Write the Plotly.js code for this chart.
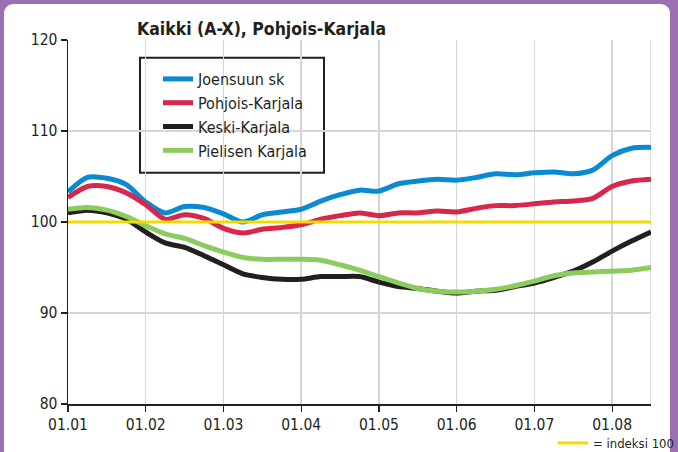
<!DOCTYPE html>
<html>
<head>
<meta charset="utf-8">
<script src="https://cdn.plot.ly/plotly-3.0.1.min.js"></script>
<style>
  html, body { margin: 0; padding: 0; width: 678px; height: 452px; overflow: hidden; background: #9a70b3; }
  #frame { position: absolute; left: 4px; top: 4px; width: 666px; height: 460px; background: #ffffff; border-radius: 9px; }
  #chart { position: absolute; left: 0; top: 0; width: 678px; height: 452px; }
</style>
</head>
<body>
<div id="frame"></div>
<div id="chart"></div>
<script>
// x positions: months since 01.01 (0 = 01.01, 1 = 01.02, ...), roughly weekly
const xMonths = [0, 0.25, 0.5, 0.75, 1, 1.25, 1.5, 1.75, 2, 2.25, 2.5, 2.75, 3, 3.25, 3.5, 3.75,
                 4, 4.25, 4.5, 4.75, 5, 5.25, 5.5, 5.75, 6, 6.25, 6.5, 6.75, 7, 7.25, 7.5];

const tickVals = [0, 1, 2, 3, 4, 5, 6, 7];
const tickLabels = ['01.01', '01.02', '01.03', '01.04', '01.05', '01.06', '01.07', '01.08'];

const seriesNames = ['Joensuun sk', 'Pohjois-Karjala', 'Keski-Karjala', 'Pielisen Karjala'];

const joensuu = [103.3, 104.9, 104.8, 104.1, 102.2, 101.0, 101.7, 101.6, 100.9, 100.0, 100.8, 101.1, 101.4, 102.3, 103.0, 103.5,
                 103.4, 104.2, 104.5, 104.7, 104.6, 104.9, 105.3, 105.2, 105.4, 105.5, 105.3, 105.7, 107.3, 108.1, 108.2];
const pohjoisKarjala = [102.7, 103.9, 103.9, 103.2, 101.9, 100.3, 100.8, 100.4, 99.3, 98.8, 99.2, 99.4, 99.7, 100.3, 100.7, 101.0,
                 100.7, 101.0, 101.0, 101.2, 101.1, 101.5, 101.8, 101.8, 102.0, 102.2, 102.3, 102.6, 103.9, 104.5, 104.7];
const keskiKarjala = [101.0, 101.3, 101.0, 100.3, 98.9, 97.7, 97.2, 96.3, 95.3, 94.3, 93.9, 93.7, 93.7, 94.0, 94.0, 94.0,
                 93.4, 92.9, 92.7, 92.4, 92.2, 92.4, 92.5, 92.9, 93.3, 93.9, 94.6, 95.6, 96.8, 97.9, 98.9];
const pielisenKarjala = [101.4, 101.6, 101.3, 100.6, 99.6, 98.7, 98.2, 97.4, 96.7, 96.1, 95.9, 95.9, 95.9, 95.8, 95.3, 94.7,
                 94.0, 93.3, 92.7, 92.4, 92.3, 92.4, 92.6, 93.0, 93.5, 94.1, 94.4, 94.5, 94.6, 94.7, 95.0];

const indexX = [0, 7.5];
const indexY = [100, 100];
const indexName = '= indeksi 100';

const colors = ['#0a8ad2', '#d6284a', '#231f20', '#8ccb5e'];
const yellow = '#f2dc00';
const FONT = "'Liberation Sans Narrow', 'Arial Narrow', 'DejaVu Sans Condensed', sans-serif";
const TXT = '#231f20';

const seriesData = [joensuu, pohjoisKarjala, keskiKarjala, pielisenKarjala];
const traces = seriesData.map((ys, i) => ({
  x: xMonths, y: ys, type: 'scatter', mode: 'lines', name: seriesNames[i],
  line: { color: colors[i], width: 5, shape: 'spline', smoothing: 0.8 },
  legend: 'legend'
}));
traces.push({
  x: indexX, y: indexY, type: 'scatter', mode: 'lines', name: indexName,
  line: { color: yellow, width: 3 }, legend: 'legend2'
});

const layout = {
  width: 678, height: 452,
  margin: { l: 68, r: 27, t: 40, b: 48, autoexpand: false },
  paper_bgcolor: 'rgba(0,0,0,0)', plot_bgcolor: 'rgba(0,0,0,0)',
  font: { family: FONT, color: TXT, size: 16 },
  title: {
    text: '<b>Kaikki (A-X), Pohjois-Karjala</b>',
    xref: 'container', x: 137 / 678, xanchor: 'left',
    yref: 'container', y: 1 - 29 / 452, yanchor: 'middle',
    font: { family: FONT, size: 17.5, color: TXT }
  },
  xaxis: {
    range: [0, 7.5], tickvals: tickVals, ticktext: tickLabels,
    showgrid: true, gridcolor: '#d6d6d6', gridwidth: 1.5,
    showline: true, linecolor: TXT, linewidth: 1.5,
    ticks: 'outside', ticklen: 6, tickcolor: TXT, tickwidth: 1.2,
    zeroline: false, tickfont: { size: 15.5, color: TXT }, fixedrange: true
  },
  yaxis: {
    range: [80, 120], tickvals: [80, 90, 100, 110, 120],
    showgrid: true, gridcolor: '#d6d6d6', gridwidth: 1.5,
    showline: true, linecolor: TXT, linewidth: 1.5,
    ticks: 'outside', ticklen: 6, tickcolor: TXT, tickwidth: 1.2,
    zeroline: false, tickfont: { size: 15.5, color: TXT }, fixedrange: true
  },
  shapes: [
    { type: 'line', xref: 'x', yref: 'y', x0: 7.5, x1: 7.5, y0: 80, y1: 120,
      line: { color: '#d6d6d6', width: 1.5 }, layer: 'below' },
    { type: 'rect', xref: 'paper', yref: 'paper',
      x0: (140 - 68) / 583, x1: (324 - 68) / 583,
      y0: (404 - 172.7) / 364, y1: (404 - 57.7) / 364,
      fillcolor: '#ffffff', line: { color: TXT, width: 2 }, layer: 'below' }
  ],
  legend: {
    x: 158 / 678, xanchor: 'left', xref: 'container',
    y: 1 - 62 / 452, yanchor: 'top', yref: 'container',
    bgcolor: 'rgba(0,0,0,0)', borderwidth: 0,
    font: { family: FONT, size: 16, color: TXT }, tracegroupgap: 0
  },
  legend2: {
    x: 553 / 678, xanchor: 'left', xref: 'container',
    y: 1 - 443 / 452, yanchor: 'middle', yref: 'container',
    bgcolor: 'rgba(0,0,0,0)', borderwidth: 0,
    font: { family: FONT, size: 13, color: TXT }
  },
  showlegend: true
};

Plotly.newPlot('chart', traces, layout, { displayModeBar: false, staticPlot: true });
</script>
</body>
</html>
